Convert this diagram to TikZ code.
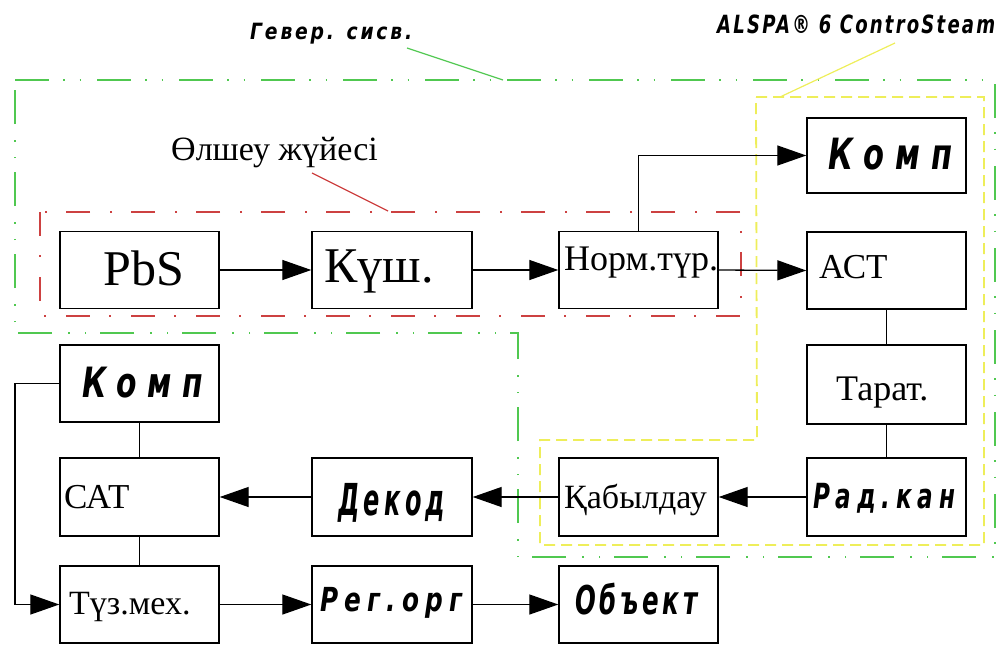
\documentclass[tikz,border=0pt]{standalone}
\usepackage{fontspec}
\usepackage{graphicx}
\setmainfont{Liberation Serif}
\newfontfamily\draftfont{DejaVu Sans}
\usetikzlibrary{arrows.meta}
\definecolor{grn}{RGB}{80,200,80}
\definecolor{ylw}{RGB}{238,238,90}
\definecolor{rd}{RGB}{205,65,65}
\newcommand\drw[4]{\resizebox*{#1pt}{#2pt}{\draftfont\bfseries\itshape\addfontfeature{LetterSpace=#3}#4}}
\tikzset{
  blk/.style={draw,line width=1.4pt,inner sep=0pt,minimum width=159pt,minimum height=77pt},
  conn/.style={line width=1.3pt},
  arr/.style={line width=1.3pt,-{Triangle[length=29pt,width=20pt]}},
  ser/.style={inner sep=0pt,anchor=base west},
  drt/.style={inner sep=0pt,anchor=north west},
  gframe/.style={draw=grn,line width=2pt,dash pattern=on 34pt off 14pt on 1.5pt off 15pt on 1.5pt off 16pt},
  yframe/.style={draw=ylw,line width=1.8pt,dash pattern=on 11pt off 6pt},
  rframe/.style={draw=rd,line width=1.8pt,dash pattern=on 24pt off 19pt on 2pt off 20pt},
}
\begin{document}
\begin{tikzpicture}[x=1pt,y=-1pt]
\useasboundingbox (0,0) rectangle (1003,645);
% frames
\draw[gframe] (15,80) -- (995,80) -- (995,557) -- (518,557) -- (518,333) -- (15,333) -- cycle;
\draw[yframe] (756,97) -- (984,97) -- (984,545) -- (540,545) -- (540,440) -- (757,440) -- cycle;
\draw[rframe] (40,212) rectangle (741,316);
% blocks
\node[blk] (pbs) at (139.5,270) {};
\node[blk,minimum width=160pt] (kush) at (392,270) {};
\node[blk] (norm) at (638.5,270) {};
\node[blk,minimum height=75pt] (komp1) at (886.5,155.5) {};
\node[blk] (ast) at (886.5,270.5) {};
\node[blk,minimum height=79pt] (tarat) at (886.5,384.5) {};
\node[blk,minimum height=78pt] (rad) at (886.5,497) {};
\node[blk,minimum height=78pt] (kab) at (638.5,497) {};
\node[blk,minimum width=160pt,minimum height=78pt] (dekod) at (392,497) {};
\node[blk,minimum height=78pt] (sat) at (139.5,497) {};
\node[blk] (komp2) at (139.5,383.5) {};
\node[blk] (tuz) at (139.5,604.5) {};
\node[blk,minimum width=160pt] (reg) at (392,604.5) {};
\node[blk] (obj) at (638.5,604.5) {};
% serif texts
\node[inner sep=0pt,anchor=base,font=\fontsize{50}{50}\selectfont] (tpbs) at (144,285) {PbS};
\node[ser,font=\fontsize{50}{50}\selectfont] (tkush) at (324,282) {Күш.};
\node[ser,font=\fontsize{36}{36}\selectfont] (tnorm) at (564,270) {Норм.түр.};
\node[ser,font=\fontsize{35}{35}\selectfont] (tast) at (819,278) {АСТ};
\node[ser,font=\fontsize{36}{36}\selectfont] (ttar) at (836,400) {Тарат.};
\node[ser,font=\fontsize{34}{34}\selectfont] (tkab) at (564,508) {Қабылдау};
\node[ser,font=\fontsize{35}{35}\selectfont] (tsat) at (64,508) {САТ};
\node[ser,font=\fontsize{34}{34}\selectfont] (ttuz) at (69,614) {Түз.мех.};
\node[ser,font=\fontsize{34}{34}\selectfont] (tolsh) at (171,160) {Өлшеу жүйесі};
% drafting texts
\node[drt] (tk1) at (828,138) {\drw{124}{32}{35}{Комп}};
\node[drt] (tk2) at (82,367) {\drw{121}{31}{35}{Комп}};
\node[drt] (tdek) at (338,483) {\drw{107}{39}{18}{Декод}};
\node[drt] (treg) at (320,587) {\drw{142}{31}{25}{Рег.орг}};
\node[drt] (trad) at (813,483) {\drw{142}{30}{25}{Рад.кан}};
\node[drt] (tobj) at (575,583) {\drw{122}{32}{15}{Объект}};
\node[drt] (tgen) at (250,23) {\drw{162}{21}{15}{Гевер. сисв.}};
\node[drt] (tals) at (717,15) {\drw{278}{19}{12}{ALSPA® 6 ControSteam}};
% leader lines
\coordinate (gl1) at (407,48); \coordinate (gl2) at (503,80);
\coordinate (yl1) at (895,43); \coordinate (yl2) at (780,97);
\coordinate (rl1) at (312,173); \coordinate (rl2) at (388,211);
\draw[grn,line width=1.2pt] (gl1) -- (gl2);
\draw[ylw,line width=1.2pt] (yl1) -- (yl2);
\draw[rd,line width=1.2pt] (rl1) -- (rl2);
% connectors
\draw[arr] (pbs.east) -- (kush.west);
\draw[arr] (kush.east) -- (norm.west);
\draw[arr] (norm.east) -- (ast.west);
\draw[arr] (norm.north) |- (komp1.west);
\draw[conn] (ast.south) -- (tarat.north);
\draw[conn] (tarat.south) -- (rad.north);
\draw[arr] (rad.west) -- (kab.east);
\draw[arr] (kab.west) -- (dekod.east);
\draw[arr] (dekod.west) -- (sat.east);
\draw[conn] (komp2.south) -- (sat.north);
\draw[conn] (sat.south) -- (tuz.north);
\coordinate (lc) at (15,383.5);
\draw[arr] (komp2.west) -- (lc) |- (tuz.west);
\draw[arr] (tuz.east) -- (reg.west);
\draw[arr] (reg.east) -- (obj.west);
\end{tikzpicture}
\end{document}
